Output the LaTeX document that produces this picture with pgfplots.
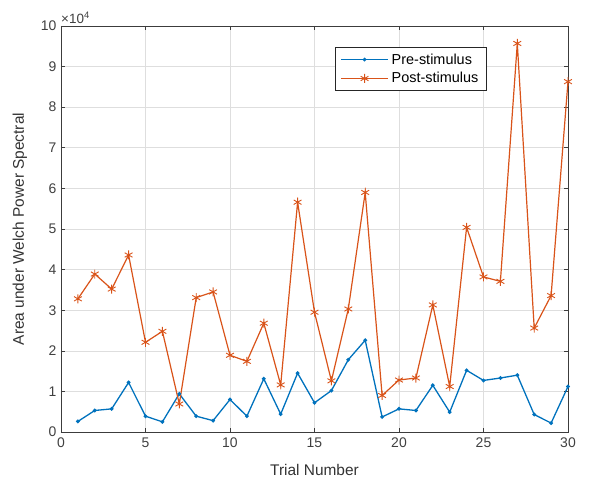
\documentclass[border=0pt]{standalone}
\usepackage{pgfplots}
\pgfplotsset{compat=1.18}
\usepackage{fontspec}
\setmainfont{Liberation Sans}
\definecolor{mblue}{rgb}{0,0.447,0.741}
\definecolor{morange}{rgb}{0.85,0.325,0.098}
\definecolor{mgrid}{RGB}{222,222,222}
\definecolor{maxis}{RGB}{60,60,60}
\pgfplotstableread{
x pre post
1 2600 32800
2 5300 38900
3 5700 35200
4 12200 43600
5 3900 22100
6 2500 24800
7 9400 6900
8 3900 33100
9 2800 34500
10 8000 18900
11 3900 17400
12 13100 26800
13 4400 11600
14 14500 56600
15 7200 29500
16 10200 12600
17 17800 30300
18 22600 59000
19 3700 9000
20 5700 12800
21 5300 13300
22 11500 31300
23 4900 11200
24 15200 50400
25 12700 38200
26 13300 37100
27 14000 95700
28 4300 25600
29 2200 33600
30 11200 86300
}\datatable
\begin{document}
\begin{tikzpicture}
\useasboundingbox (-61bp,-51bp) rectangle (532bp,432bp);
\begin{axis}[
  at={(0,0)}, anchor=south west,
  scale only axis, width=507bp, height=406bp,
  xmin=0, xmax=30, ymin=0, ymax=100000,
  xtick={0,5,...,30},
  ytick={0,10000,...,100000},
  yticklabels={0,1,2,3,4,5,6,7,8,9,10},
  scaled y ticks=false,
  /pgf/number format/assume math mode=true,
  tick label style={font=\fontsize{14}{16}\selectfont, text=black!75},
  label style={font=\fontsize{15.5}{18}\selectfont, text=black!80},
  xlabel={Trial Number},
  ylabel={Area under Welch Power Spectral},
  xlabel style={at={(axis description cs:0.5,-0.0936)}, anchor=center},
  ylabel style={at={(axis description cs:-0.081,0.5)}, anchor=center},
  xticklabel style={yshift=-2bp},
  yticklabel style={xshift=-1bp},
  grid=major,
  major grid style={mgrid, line width=0.6bp},
  axis line style={maxis, line width=0.9bp},
  tick style={maxis, line width=0.6bp},
  tick align=inside,
  major tick length=4bp,
  legend style={at={(rel axis cs:0.5404,0.948)}, anchor=north west,
    font=\fontsize{14.5}{17}\selectfont, draw=black!85, line width=0.9bp,
    inner xsep=5bp, inner ysep=4bp, row sep=3bp,
    nodes={inner xsep=3bp}},
  legend cell align=left,
  legend image code/.code={
    \draw[#1] (0bp,0bp) -- (47bp,0bp);
    \draw[#1, only marks] plot coordinates {(23.5bp,0bp)};
  },
  clip=false,
]
\addplot[color=mblue, line width=1.3bp, mark=*, mark size=1.2bp] table[x=x,y=pre] {\datatable};
\addlegendentry{Pre-stimulus}
\addplot[color=morange, line width=1.2bp, mark=asterisk, mark size=4.5bp, mark options={line width=0.9bp}] table[x=x,y=post] {\datatable};
\addlegendentry{Post-stimulus}
\node[anchor=south west, inner sep=0pt, text=black!75, font=\fontsize{13.5}{15}\selectfont] at (rel axis cs:0,1.006) {×10\textsuperscript{4}};
\end{axis}
\end{tikzpicture}
\end{document}
